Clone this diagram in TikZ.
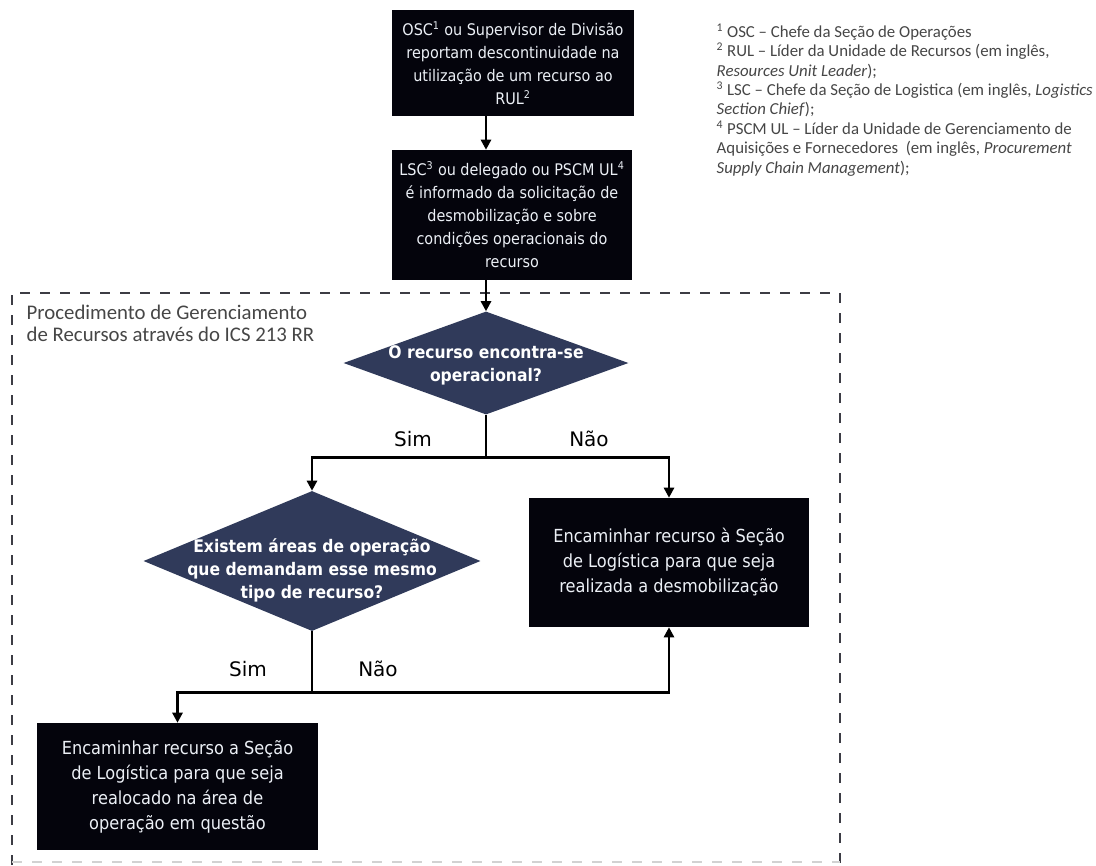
\documentclass[tikz,border=0pt]{standalone}
\usepackage{fontspec}
\setmainfont{Carlito}
\newfontfamily\boxfont{DejaVu Sans Condensed}
\newfontfamily\labelfont{DejaVu Sans}
\usetikzlibrary{shapes.geometric,arrows.meta}

\definecolor{boxblack}{RGB}{4,4,12}
\definecolor{boxtext}{RGB}{236,240,246}
\definecolor{navy}{RGB}{48,58,90}
\definecolor{frameline}{RGB}{60,60,68}
\definecolor{notetext}{RGB}{70,70,70}

\tikzset{
  proc/.style={fill=boxblack, text=boxtext, align=center, inner sep=0pt,
    font=\boxfont\fontsize{12}{17.25}\selectfont},
  proclarge/.style={proc, font=\boxfont\fontsize{13.5}{18.75}\selectfont},
  decision/.style={diamond, fill=navy, draw=none, inner sep=0pt},
  dtext/.style={text=white, align=center,
    font=\boxfont\bfseries\fontsize{13}{17.25}\selectfont},
  link/.style={line width=2.1pt},
  flow/.style={link, -{Triangle[length=7.5pt,width=7.5pt]}},
  branch/.style={font=\labelfont\fontsize{15}{18}\selectfont},
  frame/.style={draw=frameline, line width=1.2pt, dash pattern=on 7.5pt off 7.5pt},
}

\begin{document}
\begin{tikzpicture}[x=0.75pt,y=-0.75pt]
\useasboundingbox (0,0) rectangle (1096,865);

% dashed frame around the ICS 213 RR procedure
\draw[frame] (12,865) -- (12,293) -- (840,293) -- (840,865);
\draw[frame, draw=gray!35] (12,862) -- (840,862);
\node[anchor=north west, align=left, text=notetext,
  font=\fontsize{15.6}{16.5}\selectfont] (proclabel) at (22,300)
  {Procedimento de Gerenciamento\\de Recursos através do ICS 213 RR};

% footnotes
\node[anchor=north west, align=left, text=notetext,
  font=\fontsize{12.6}{14.6}\selectfont] (notes) at (712,19)
  {\textsuperscript{1} OSC – Chefe da Seção de Operações\\
   \textsuperscript{2} RUL – Líder da Unidade de Recursos (em inglês,\\
   \textit{Resources Unit Leader});\\
   \textsuperscript{3} LSC – Chefe da Seção de Logistica (em inglês, \textit{Logistics}\\
   \textit{Section Chief});\\
   \textsuperscript{4} PSCM UL – Líder da Unidade de Gerenciamento de\\
   Aquisições e Fornecedores\ \ (em inglês, \textit{Procurement}\\
   \textit{Supply Chain Management});};

% process boxes
\node[proc, minimum width=181.5pt, minimum height=79.5pt] (b1) at (513,63)
  {OSC\textsuperscript{1} ou Supervisor de Divisão\\reportam descontinuidade na\\utilização de um recurso ao\\RUL\textsuperscript{2}};
\node[proc, minimum width=180pt, minimum height=97.5pt] (b2) at (512,215)
  {LSC\textsuperscript{3} ou delegado ou PSCM UL\textsuperscript{4}\\é informado da solicitação de\\desmobilização e sobre\\condições operacionais do\\recurso};
\node[proclarge, minimum width=210pt, minimum height=96.75pt] (b3) at (669,562.5)
  {Encaminhar recurso à Seção\\de Logística para que seja\\realizada a desmobilização};
\node[proclarge, minimum width=210.75pt, minimum height=95.25pt] (b4) at (177.5,786.5)
  {Encaminhar recurso a Seção\\de Logística para que seja\\realocado na área de\\operação em questão};

% decisions
\node[decision, minimum width=213.75pt, minimum height=77.25pt] (d1) at (486,363) {};
\node[dtext] (d1text) at (486,365) {O recurso encontra-se\\operacional?};
\node[decision, minimum width=252.75pt, minimum height=105pt] (d2) at (312,561) {};
\node[dtext] (d2text) at (312,570) {Existem áreas de operação\\que demandam esse mesmo\\tipo de recurso?};

% junctions below the decisions
\path (d1.south) ++(0,42.5) coordinate (j1);
\path (d2.south) ++(0,61) coordinate (j2);

% connectors
\draw[flow] (b1.south -| d1.north) -- (b2.north -| d1.north);
\draw[flow] (b2.south -| d1.north) -- (d1.north);
\draw[link] (d1.south) -- (j1);
\draw[flow] (j1) -| (d2.north);
\draw[flow] (j1) -| (b3.north);
\draw[link] (d2.south) -- (j2);
\draw[flow] (j2) -| (b4.north);
\draw[flow] (j2) -| (b3.south);

% branch labels
\node[branch] (sim1) at (413,439) {Sim};
\node[branch] (nao1) at (589,439) {Não};
\node[branch] (sim2) at (248,669) {Sim};
\node[branch] (nao2) at (378,669) {Não};
\end{tikzpicture}
\end{document}
